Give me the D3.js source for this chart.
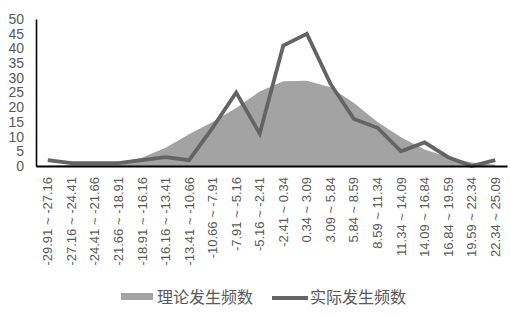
<!DOCTYPE html>
<html><head><meta charset="utf-8">
<script src="https://cdn.jsdelivr.net/npm/d3@7"></script>
<style>body{margin:0;background:#fff}svg{display:block}</style>
</head><body>
<script>
const categories = ["-29.91 ~ -27.16","-27.16 ~ -24.41","-24.41 ~ -21.66","-21.66 ~ -18.91","-18.91 ~ -16.16","-16.16 ~ -13.41","-13.41 ~ -10.66","-10.66 ~ -7.91","-7.91 ~ -5.16","-5.16 ~ -2.41","-2.41 ~ 0.34","0.34 ~ 3.09","3.09 ~ 5.84","5.84 ~ 8.59","8.59 ~ 11.34","11.34 ~ 14.09","14.09 ~ 16.84","16.84 ~ 19.59","19.59 ~ 22.34","22.34 ~ 25.09"];
const theoretical = [0.1,0.3,0.6,1.3,2.8,6.2,10.8,15,19.7,25.3,28.8,29,26.8,21.4,15,9.8,5.6,3.0,1.2,0.4];
const actual = [2,1,1,1,2,3,2,13,25,11,41,45,28,16,13,5,8,3,0,2];
const yTicks = [0,5,10,15,20,25,30,35,40,45,50];
const seriesNames = ["理论发生频数","实际发生频数"];

const W=511,H=318;
const svg=d3.select("body").append("svg").attr("width",W).attr("height",H);
const x=d3.scaleBand().domain(categories).range([36,507]).padding(0);
const y=d3.scaleLinear().domain([0,50]).range([166,19]);
const cx=d=>x(d)+x.bandwidth()/2;
const font="'Liberation Sans', Arial, sans-serif";
const txt="#595959";

// area
svg.append("path").datum(theoretical)
  .attr("fill","#a3a3a3")
  .attr("d",d3.area().x((d,i)=>cx(categories[i])).y0(y(0)).y1(d=>y(d)));

// line
svg.append("path").datum(actual)
  .attr("fill","none").attr("stroke","#646464").attr("stroke-width",3.8)
  .attr("stroke-linejoin","miter")
  .attr("d",d3.line().x((d,i)=>cx(categories[i])).y(d=>y(d)));

// y axis
const ya=svg.append("g").attr("transform","translate(36,0)")
  .call(d3.axisLeft(y).tickValues(yTicks).tickSize(0).tickPadding(12));
ya.select(".domain").attr("stroke","#000").attr("stroke-width",1.6);
ya.selectAll("text").attr("font-family",font).attr("font-size",14).attr("fill",txt);

// x axis
const xa=svg.append("g").attr("transform","translate(0,166)")
  .call(d3.axisBottom(x).tickSize(0).tickSizeOuter(0));
xa.select(".domain").attr("stroke","#000").attr("stroke-width",2);
xa.selectAll("text").attr("font-family",font).attr("font-size",13).attr("fill",txt)
  .attr("transform","rotate(-90)").attr("text-anchor","end")
  .attr("x",-11).attr("y",0).attr("dy","0.35em");

// legend
const lg=svg.append("g");
lg.append("rect").attr("x",121).attr("y",293).attr("width",32).attr("height",7).attr("fill","#a3a3a3");
lg.append("text").attr("x",157).attr("y",297).attr("dy","0.35em")
  .attr("font-family","'Noto Sans CJK SC', sans-serif").attr("font-size",16).attr("fill",txt).text(seriesNames[0]);
lg.append("line").attr("x1",272).attr("x2",308).attr("y1",298).attr("y2",298)
  .attr("stroke","#646464").attr("stroke-width",3.8);
lg.append("text").attr("x",310).attr("y",297).attr("dy","0.35em")
  .attr("font-family","'Noto Sans CJK SC', sans-serif").attr("font-size",16).attr("fill",txt).text(seriesNames[1]);
</script>
</body></html>
